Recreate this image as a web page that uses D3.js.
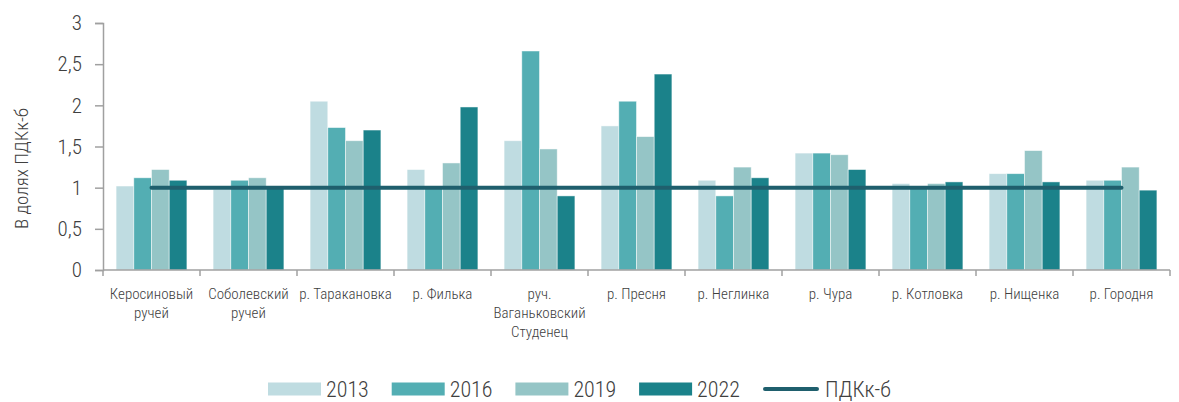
<!DOCTYPE html>
<html>
<head>
<meta charset="utf-8">
<script src="https://cdn.jsdelivr.net/npm/d3@7"></script>
<style>
  body { margin: 0; background: #fff; }
  svg text { font-family: "Roboto Condensed", "Liberation Sans Narrow", "DejaVu Sans Condensed", sans-serif; font-weight: 300; fill: #404040; }
</style>
</head>
<body>
<div id="chart"></div>
<script>
const categories = ["Керосиновый ручей", "Соболевский ручей", "р. Таракановка", "р. Филька",
  "руч. Ваганьковский Студенец", "р. Пресня", "р. Неглинка", "р. Чура", "р. Котловка",
  "р. Нищенка", "р. Городня"];
// label line breaks
const labelLines = [["Керосиновый", "ручей"], ["Соболевский", "ручей"], ["р. Таракановка"], ["р. Филька"],
  ["руч.", "Ваганьковский", "Студенец"], ["р. Пресня"], ["р. Неглинка"], ["р. Чура"], ["р. Котловка"],
  ["р. Нищенка"], ["р. Городня"]];
const years = ["2013", "2016", "2019", "2022"];
const v2013 = [1.02, 0.98, 2.05, 1.22, 1.57, 1.75, 1.09, 1.42, 1.05, 1.17, 1.09];
const v2016 = [1.12, 1.09, 1.73, 0.99, 2.66, 2.05, 0.90, 1.42, 0.99, 1.17, 1.09];
const v2019 = [1.22, 1.12, 1.57, 1.30, 1.47, 1.62, 1.25, 1.40, 1.05, 1.45, 1.25];
const v2022 = [1.09, 0.99, 1.70, 1.98, 0.90, 2.38, 1.12, 1.22, 1.07, 1.07, 0.97];
const pdk = 1;
const yTicks = [0, 0.5, 1, 1.5, 2, 2.5, 3];

const series = [v2013, v2016, v2019, v2022];
const colors = ["#bfdce1", "#53aeb3", "#95c5c6", "#1b828a"];
const lineColor = "#1f5f6d";

const width = 1179, height = 402;
const margin = {top: 23, right: 9, bottom: 132, left: 103};

const svg = d3.select("#chart").append("svg")
  .attr("width", width)
  .attr("height", height);

const x0 = d3.scaleBand()
  .domain(categories)
  .range([margin.left, width - margin.right])
  .paddingInner(0.27)
  .paddingOuter(0.135);

const x1 = d3.scaleBand()
  .domain(years)
  .range([0, x0.bandwidth()]);

const y = d3.scaleLinear()
  .domain([0, 3])
  .range([height - margin.bottom, margin.top]);

const axisColor = "#a0a0a0";

// y axis
const yAxis = svg.append("g")
  .attr("transform", `translate(${margin.left},0)`)
  .call(d3.axisLeft(y).tickValues(yTicks).tickSize(8).tickPadding(13)
    .tickFormat(d => String(d).replace(".", ",")));
yAxis.select(".domain").attr("stroke", axisColor).attr("stroke-width", 1.5);
yAxis.selectAll(".tick line").attr("stroke", axisColor).attr("stroke-width", 1.5);
yAxis.selectAll(".tick text").style("font-size", "21px");

svg.append("text")
  .attr("transform", `translate(21,${(y(0) + y(3)) / 2 + 22}) rotate(-90)`)
  .attr("text-anchor", "middle")
  .attr("dy", "0.35em")
  .style("font-size", "19px")
  .text("В долях ПДКк-б");

// bars
const groups = svg.append("g").selectAll("g")
  .data(categories)
  .join("g")
  .attr("transform", d => `translate(${x0(d)},0)`);

groups.selectAll("rect")
  .data((d, i) => years.map((yr, k) => ({yr, k, v: series[k][i]})))
  .join("rect")
  .attr("x", d => x1(d.yr))
  .attr("y", d => y(d.v))
  .attr("width", x1.bandwidth())
  .attr("height", d => y(0) - y(d.v))
  .attr("fill", d => colors[d.k])
  .attr("stroke", "rgba(255,255,255,0.6)")
  .attr("stroke-width", 0.8);

// x axis
const step = x0.step();
const bounds = d3.range(categories.length + 1).map(i => margin.left + i * step);
svg.append("line")
  .attr("x1", margin.left).attr("x2", width - margin.right)
  .attr("y1", y(0)).attr("y2", y(0))
  .attr("stroke", axisColor).attr("stroke-width", 1.5);
svg.append("g").selectAll("line")
  .data(bounds)
  .join("line")
  .attr("x1", d => d).attr("x2", d => d)
  .attr("y1", y(0)).attr("y2", y(0) + 6)
  .attr("stroke", axisColor).attr("stroke-width", 1.5);

const labels = svg.append("g").selectAll("text")
  .data(categories)
  .join("text")
  .attr("x", d => x0(d) + x0.bandwidth() / 2)
  .attr("y", y(0) + 29)
  .attr("text-anchor", "middle")
  .style("font-size", "15px");
labels.selectAll("tspan")
  .data((d, i) => labelLines[i])
  .join("tspan")
  .attr("x", function() { return d3.select(this.parentNode).attr("x"); })
  .attr("dy", (d, i) => i === 0 ? 0 : 19)
  .text(d => d);

// ПДК line
const lineGen = d3.line()
  .x(d => x0(d) + x0.bandwidth() / 2)
  .y(() => y(pdk));
svg.append("path")
  .datum([categories[0], categories[categories.length - 1]])
  .attr("d", lineGen)
  .attr("fill", "none")
  .attr("stroke", lineColor)
  .attr("stroke-width", 4)
  .attr("stroke-linecap", "round");

// legend
const legendY = 389;
const leg = svg.append("g");
years.forEach((yr, k) => {
  const lx = 268 + k * 123.7;
  leg.append("rect")
    .attr("x", lx).attr("y", legendY - 6.5)
    .attr("width", 53).attr("height", 13)
    .attr("fill", colors[k]);
  leg.append("text")
    .attr("x", lx + 58).attr("y", legendY)
    .attr("dy", "0.36em")
    .style("font-size", "22px")
    .text(yr);
});
leg.append("line")
  .attr("x1", 765).attr("x2", 817)
  .attr("y1", legendY).attr("y2", legendY)
  .attr("stroke", lineColor)
  .attr("stroke-width", 4)
  .attr("stroke-linecap", "round");
leg.append("text")
  .attr("x", 825).attr("y", legendY)
  .attr("dy", "0.36em")
  .style("font-size", "22px")
  .text("ПДКк-б");
</script>
</body>
</html>
